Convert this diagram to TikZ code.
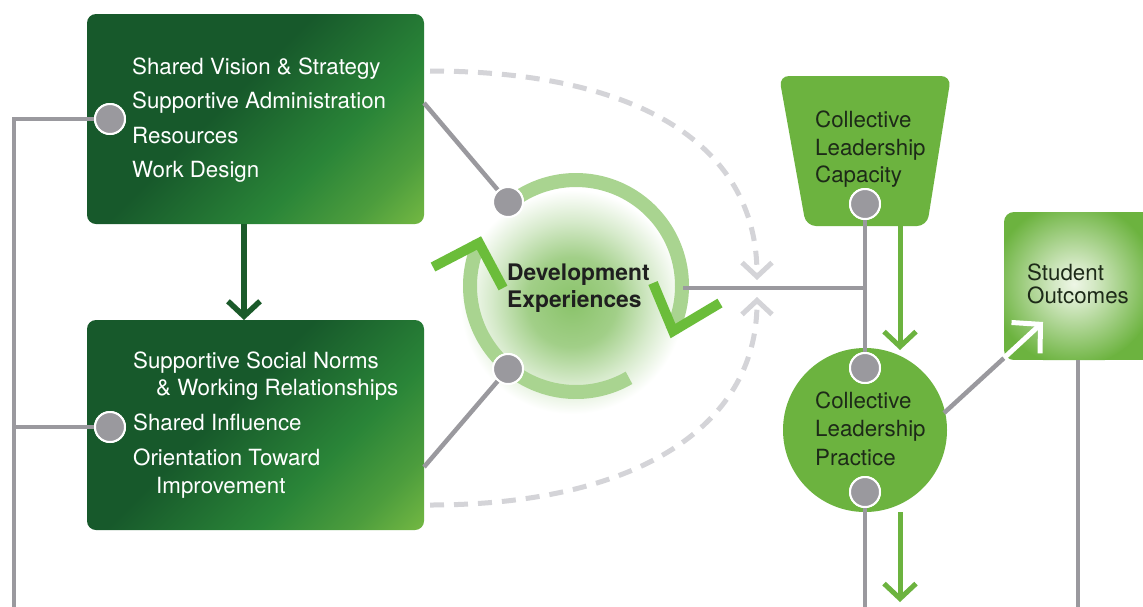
\documentclass[tikz,border=0pt]{standalone}
\usepackage{fontspec}
\setmainfont{TeX Gyre Heros}
\usetikzlibrary{arrows.meta}
\definecolor{g1}{HTML}{17592B}
\definecolor{g2}{HTML}{2A8538}
\definecolor{g3}{HTML}{76BA43}
\definecolor{lgreen}{HTML}{6CB33F}
\definecolor{ringc}{HTML}{A9D490}
\definecolor{chev}{HTML}{6BBD3A}
\definecolor{lgray}{HTML}{9A999E}
\definecolor{dgray}{HTML}{D4D4D8}
\definecolor{darr}{HTML}{1B5A2A}
\definecolor{tdark}{HTML}{1D2A18}
\definecolor{glowc}{HTML}{8AC36A}
\definecolor{soin}{HTML}{EEF6E6}
\pgfdeclarehorizontalshading{dkgrad}{100bp}{color(0bp)=(g1); color(44bp)=(g1); color(64bp)=(g2); color(76bp)=(g2!55!g3); color(86bp)=(g3); color(100bp)=(g3)}
\pgfdeclareradialshading{glowsh}{\pgfpoint{0bp}{0bp}}{color(0bp)=(glowc); color(10bp)=(glowc!80!white); color(18bp)=(glowc!35!white); color(25bp)=(white); color(50bp)=(white)}
\pgfdeclareradialshading{sosh}{\pgfpoint{0bp}{0bp}}{color(0bp)=(soin); color(6bp)=(soin!80!lgreen); color(25bp)=(lgreen); color(50bp)=(lgreen)}
\newcommand\myfs{\fontsize{22.3}{26}\selectfont}
\begin{document}
\begin{tikzpicture}[x=1pt,y=-1pt,
  dkbox/.style={rectangle, rounded corners=9pt, shading=dkgrad, shading angle=-45, minimum width=337pt, minimum height=210pt, inner sep=0pt},
  wtxt/.style={anchor=base west, inner sep=0pt, text=white, font=\myfs},
  ktxt/.style={anchor=base west, inner sep=0pt, text=tdark, font=\myfs},
  btxt/.style={anchor=base west, inner sep=0pt, text=black!88, font=\fontsize{22.8}{26}\selectfont\bfseries},
  gline/.style={draw=lgray, line width=4.5pt},
  gdot/.style={circle, fill=lgray, draw=white, line width=2pt, minimum size=30pt, inner sep=0pt},
  dashline/.style={draw=dgray, line width=5pt, dash pattern=on 14pt off 10pt, -{Straight Barb[length=14pt,width=30pt]}},
  grarrow/.style={draw=lgreen, line width=5pt, -{Straight Barb[length=15pt,width=32pt]}},
  dkarrow/.style={draw=darr, line width=5.5pt, -{Straight Barb[length=15pt,width=32pt]}},
  ringarc/.style={draw=ringc, line width=14pt},
  chevron/.style={draw=chev, line width=10pt, line join=miter},
]
\useasboundingbox (0,0) rectangle (1143,606);
\fill[white] (0,0) rectangle (1143,606);

% glow of Development Experiences
\shade[shading=glowsh] (572,302) circle (112);

% dashed feedback curves
\coordinate (dA) at (430,71);
\coordinate (dAt) at (757,280);
\coordinate (dB) at (430,505);
\coordinate (dBt) at (757,297);
\draw[dashline] (dA) .. controls (630,71) and (757,140) .. (dAt);
\draw[dashline] (dB) .. controls (630,505) and (757,430) .. (dBt);

% boxes
\node[dkbox] (boxA) at (255.5,119) {};
\node[dkbox] (boxB) at (255.5,425) {};

% dark arrow A -> B
\coordinate (aTop) at (244,224);
\coordinate (aBot) at (244,320);
\draw[dkarrow] (aTop) -- (aBot);

% ring and chevrons
\coordinate (ringc) at (576,286);
\draw[ringarc] (ringc) ++(60:106) arc[start angle=60, end angle=204, radius=106];
\draw[ringarc] (ringc) ++(230:106) arc[start angle=230, end angle=385, radius=106];
\draw[chevron] (433,267) -- (479,243) -- (503,288);
\draw[chevron] (653,283) -- (673,331) -- (720,303);

% left gray frame line
\node[gdot] (dotA) at (110,119) {};
\node[gdot] (dotB) at (110,427) {};
\coordinate (lTop) at (14,119);
\coordinate (lMid) at (14,427);
\coordinate (lBot) at (14,610);
\draw[gline] (lBot) -- (lTop) -- (dotA.center);
\draw[gline] (lMid) -- (dotB.center);
\node[gdot] at (dotA) {};
\node[gdot] at (dotB) {};

% connectors boxes -> development
\coordinate (boxAe) at (424,103);
\coordinate (boxBe) at (424,467);
\node[gdot] (dotDA) at (508,202) {};
\node[gdot] (dotDB) at (508,369) {};
\draw[gline] (boxAe) -- (dotDA.center);
\draw[gline] (boxBe) -- (dotDB.center);
\node[gdot] at (dotDA) {};
\node[gdot] at (dotDB) {};

% Collective Leadership Capacity
\fill[lgreen, rounded corners=10pt] (779,76) -- (951,76) -- (927,226) -- (806,226) -- cycle;
\node[inner sep=0pt, minimum width=150pt, minimum height=150pt] (clc) at (865,151) {};
% Collective Leadership Practice
\node[circle, fill=lgreen, minimum size=164pt, inner sep=0pt] (clp) at (865,430) {};
% Student Outcomes
\node[inner sep=0pt, minimum width=156pt, minimum height=148pt] (so) at (1082,286) {};
\begin{scope}
\clip[rounded corners=10pt] (1004,212) rectangle (1160,360);
\fill[lgreen] (1004,212) rectangle (1160,360);
\shade[shading=sosh] (1074,284) circle (82);
\end{scope}

% gray connectors right part
\node[gdot] (dotC) at (865,204) {};
\node[gdot] (dotP1) at (865,368) {};
\node[gdot] (dotP2) at (865,492) {};
\coordinate (ringR) at (683,288);
\coordinate (junc) at (865,288);
\coordinate (pBot) at (865,610);
\coordinate (soBot) at (1078,360);
\coordinate (soBot2) at (1078,610);
\draw[gline] (dotC.center) -- (dotP1.center);
\draw[gline] (ringR) -- (junc);
\draw[gline] (dotP2.center) -- (pBot);
\draw[gline] (soBot) -- (soBot2);
\coordinate (clpE) at (944,413);
\coordinate (soIn) at (1004,358);
\coordinate (soTip) at (1043,322);
\draw[gline] (clpE) -- (soIn);
\draw[draw=white, line width=5pt, -{Straight Barb[length=20pt,width=42pt]}] (soIn) -- (soTip);
\node[gdot] at (dotC) {};
\node[gdot] at (dotP1) {};
\node[gdot] at (dotP2) {};

% green arrows
\coordinate (gA1) at (900,226);
\coordinate (gA2) at (900,350);
\coordinate (gB1) at (900,512);
\coordinate (gB2) at (900,602);
\draw[grarrow] (gA1) -- (gA2);
\draw[grarrow] (gB1) -- (gB2);

% texts
\node[wtxt] (a1) at (132,74) {Shared Vision \& Strategy};
\node[wtxt] (a2) at (132,108.5) {Supportive Administration};
\node[wtxt] (a3) at (132,143) {Resources};
\node[wtxt] (a4) at (132,177.5) {Work Design};
\node[wtxt] (b1) at (133,368) {Supportive Social Norms};
\node[wtxt] (b2) at (156,395) {\& Working Relationships};
\node[wtxt] (b3) at (133,430) {Shared Influence};
\node[wtxt] (b4) at (133,465) {Orientation Toward};
\node[wtxt] (b5) at (156,493) {Improvement};
\node[btxt] (d1) at (507,280) {Development};
\node[btxt] (d2) at (507,307) {Experiences};
\node[ktxt] (c1) at (815,127) {Collective};
\node[ktxt] (c2) at (815,155) {Leadership};
\node[ktxt] (c3) at (815,182.5) {Capacity};
\node[ktxt] (p1) at (815,408) {Collective};
\node[ktxt] (p2) at (815,436.5) {Leadership};
\node[ktxt] (p3) at (815,465) {Practice};
\node[ktxt] (s1) at (1027,280.5) {Student};
\node[ktxt] (s2) at (1027,303) {Outcomes};
\end{tikzpicture}
\end{document}
